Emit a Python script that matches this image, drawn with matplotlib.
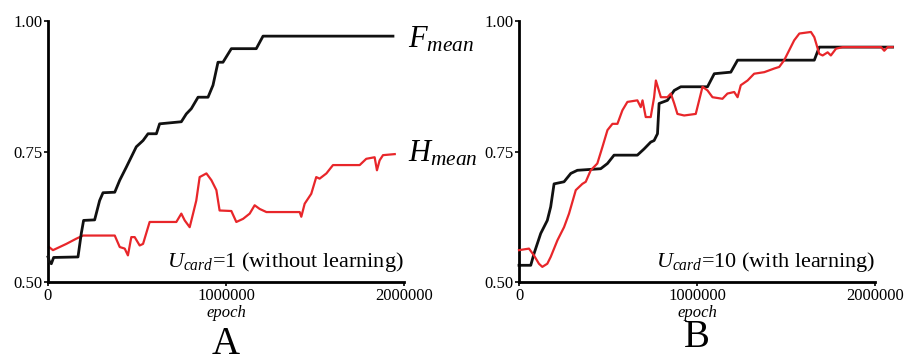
import numpy as np
import matplotlib
matplotlib.use('Agg')
import matplotlib.pyplot as plt

plt.rcParams['font.family'] = 'Liberation Serif'
plt.rcParams['mathtext.fontset'] = 'custom'
plt.rcParams['mathtext.rm'] = 'Liberation Serif'
plt.rcParams['mathtext.it'] = 'Liberation Serif:italic'

# panel A : U_card = 1 (without learning)
a_f_x = [0, 9.4e3, 18.7e3, 31.8e3, 168.5e3, 187e3, 200e3, 262e3, 290e3, 309e3, 375e3, 403e3,
         440e3, 496e3, 534e3, 562e3, 609e3, 627e3, 749e3, 777e3, 805e3, 843e3, 899e3, 927e3,
         955e3, 983e3, 1030e3, 1170e3, 1208e3, 1938e3]
a_f_y = [0.548, 0.538, 0.535, 0.547, 0.548, 0.593, 0.618, 0.619, 0.656, 0.671, 0.672, 0.695,
         0.720, 0.759, 0.771, 0.784, 0.784, 0.803, 0.807, 0.822, 0.832, 0.854, 0.854, 0.877,
         0.921, 0.921, 0.947, 0.947, 0.971, 0.971]
a_h_x = [5.6e3, 28e3, 103e3, 159e3, 197e3, 375e3, 403e3, 431e3, 449e3, 468e3, 487e3, 515e3,
         534e3, 571e3, 721e3, 749e3, 768e3, 796e3, 815e3, 833e3, 852e3, 890e3, 918e3, 946e3,
         964e3, 1030e3, 1058e3, 1096e3, 1133e3, 1161e3, 1189e3, 1227e3, 1414e3, 1423e3, 1442e3,
         1479e3, 1507e3, 1526e3, 1564e3, 1601e3, 1751e3, 1788e3, 1835e3, 1848e3, 1863e3,
         1882e3, 1948e3]
a_h_y = [0.567, 0.561, 0.573, 0.583, 0.589, 0.589, 0.567, 0.564, 0.551, 0.586, 0.586, 0.570,
         0.573, 0.615, 0.615, 0.631, 0.618, 0.605, 0.631, 0.656, 0.701, 0.708, 0.695, 0.676,
         0.637, 0.636, 0.615, 0.621, 0.631, 0.647, 0.640, 0.634, 0.634, 0.625, 0.650,
         0.669, 0.701, 0.698, 0.708, 0.724, 0.724, 0.736, 0.739, 0.714, 0.733,
         0.743, 0.745]

# panel B : U_card = 10 (with learning)
b_f_x = [0, 66e3, 84e3, 122e3, 159e3, 178e3, 197e3, 253e3, 291e3, 328e3, 459e3, 497e3, 534e3,
         665e3, 703e3, 740e3, 759e3, 778e3, 787e3, 834e3, 872e3, 909e3, 1059e3, 1097e3, 1190e3,
         1228e3, 1659e3, 1687e3, 2099e3]
b_f_y = [0.532, 0.532, 0.554, 0.593, 0.618, 0.644, 0.688, 0.692, 0.708, 0.714, 0.717, 0.727,
         0.743, 0.743, 0.755, 0.768, 0.771, 0.784, 0.842, 0.848, 0.867, 0.874, 0.874, 0.899,
         0.902, 0.925, 0.925, 0.950, 0.950]
b_h_x = [0, 56e3, 84e3, 112e3, 131e3, 159e3, 178e3, 216e3, 253e3, 281e3, 319e3, 356e3, 375e3,
         403e3, 440e3, 469e3, 497e3, 525e3, 553e3, 581e3, 609e3, 665e3, 684e3, 694e3, 712e3,
         740e3, 759e3, 769e3, 797e3, 834e3, 853e3, 872e3, 890e3, 928e3, 993e3, 1012e3, 1031e3,
         1059e3, 1087e3, 1143e3, 1171e3, 1209e3, 1228e3, 1246e3, 1284e3, 1321e3, 1378e3,
         1434e3, 1462e3, 1490e3, 1518e3, 1546e3, 1575e3, 1640e3, 1659e3, 1687e3, 1706e3,
         1734e3, 1752e3, 1781e3, 1818e3, 2034e3, 2052e3, 2071e3, 2099e3]
b_h_y = [0.561, 0.564, 0.551, 0.535, 0.529, 0.535, 0.548, 0.580, 0.605, 0.631, 0.676, 0.688,
         0.692, 0.714, 0.727, 0.759, 0.791, 0.803, 0.803, 0.829, 0.845, 0.848, 0.835, 0.848,
         0.816, 0.816, 0.854, 0.886, 0.854, 0.854, 0.861, 0.842, 0.822, 0.819, 0.822, 0.848,
         0.874, 0.867, 0.854, 0.851, 0.861, 0.864, 0.854, 0.877, 0.886, 0.899, 0.902,
         0.909, 0.912, 0.925, 0.944, 0.963, 0.976, 0.979, 0.969, 0.937, 0.934,
         0.940, 0.934, 0.947, 0.950, 0.950, 0.943, 0.950, 0.950]

yticks = [0.50, 0.75, 1.00]
ytick_labels = ['0.50', '0.75', '1.00']
xticks = [0, 1000000, 2000000]
xtick_labels = ['0', '1000000', '2000000']

black = '#111111'
red = '#e8262a'

fig = plt.figure(figsize=(9.08, 3.6), dpi=100)
axA = fig.add_axes([48/908, 78/360, 356/908, 261/360])
axB = fig.add_axes([519/908, 78/360, 356/908, 261/360])

panels = [(axA, a_f_x, a_f_y, a_h_x, a_h_y, r'$U_{card}$=1 (without learning)', 'A', -0.275),
          (axB, b_f_x, b_f_y, b_h_x, b_h_y, r'$U_{card}$=10 (with learning)', 'B', -0.25)]

for ax, fx, fy, hx, hy, note, letter, ly in panels:
    if letter == 'A':
        ax.plot(fx, fy, color=black, lw=2.0, clip_on=False, zorder=3)
        ax.plot(hx, hy, color=red, lw=1.6, clip_on=False, zorder=2)
    else:
        ax.plot(fx, fy, color=black, lw=2.0, clip_on=False, zorder=2)
        ax.plot(hx, hy, color=red, lw=1.6, clip_on=False, zorder=3)
    ax.set_xlim(0, 2000000)
    ax.set_ylim(0.5, 1.0)
    ax.set_yticks(yticks)
    ax.set_yticklabels(ytick_labels)
    ax.set_xticks(xticks)
    ax.set_xticklabels(xtick_labels)
    ax.tick_params(labelsize=12, length=3, width=1.2, pad=1)
    for s in ['top', 'right']:
        ax.spines[s].set_visible(False)
    for s in ['left', 'bottom']:
        ax.spines[s].set_linewidth(2.0)
    ax.set_xlabel('epoch', fontsize=12, style='italic', labelpad=1)
    ax.text(1.0, 0.03, note, transform=ax.transAxes, ha='right', va='bottom', fontsize=16)
    ax.text(0.5, ly, letter, transform=ax.transAxes, ha='center', va='baseline', fontsize=28)

axA.text(1.01, 0.93, r'$F_{mean}$', transform=axA.transAxes, ha='left', va='center', fontsize=22)
axA.text(1.01, 0.49, r'$H_{mean}$', transform=axA.transAxes, ha='left', va='center', fontsize=22)

fig.savefig('out.png', dpi=100)
